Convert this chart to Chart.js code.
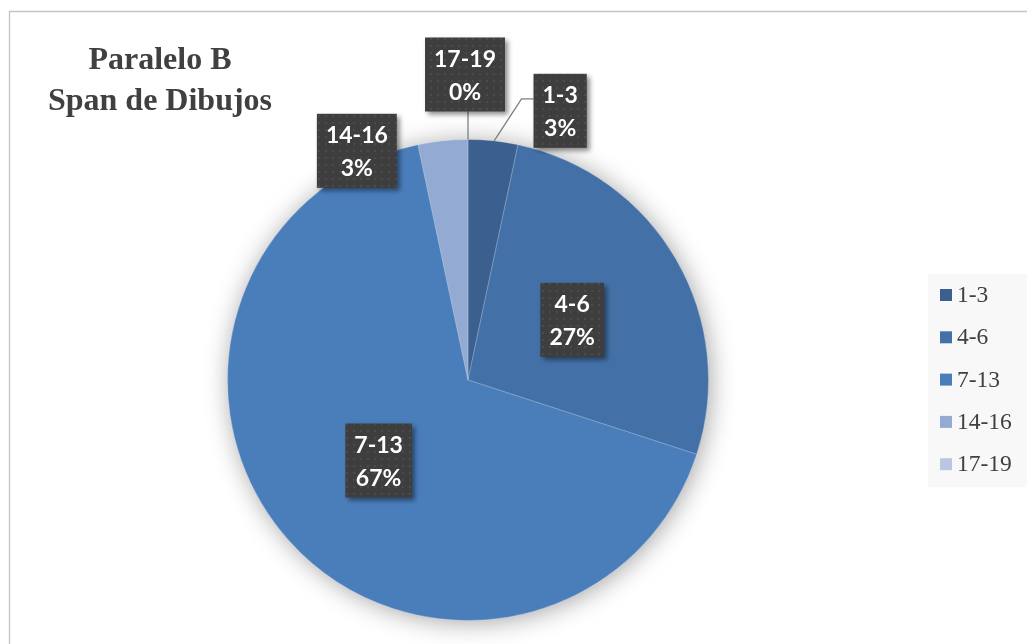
<!DOCTYPE html>
<html>
<head>
<meta charset="utf-8">
<script src="https://cdn.jsdelivr.net/npm/chart.js@4/dist/chart.umd.min.js"></script>
<style>
  html, body { margin: 0; padding: 0; background: #ffffff; }
  #wrap { position: relative; width: 1027px; height: 644px; }
  canvas { display: block; }
</style>
</head>
<body>
<div id="wrap"><canvas id="pie" width="1027" height="644"></canvas></div>
<script>
// Span ranges and number of drawings in each range
const categories = ['1-3', '4-6', '7-13', '14-16', '17-19'];
const counts = [1, 8, 20, 1, 0];
const titleLines = ['Paralelo B', 'Span de Dibujos'];

const sliceColors = ['#3b5f8e', '#4371a7', '#4a7ebb', '#93aad2', '#b9c7e3'];

// How each data label sits: inside the slice, or pushed outside from its rim
const labelPlacement = [
  { mode: 'outside', dx: 67, dy: -30, leader: 'elbow' },
  { mode: 'inside' },
  { mode: 'inside' },
  { mode: 'outside', dx: -86, dy: 10, leader: 'none' },
  { mode: 'outside', dx: -3, dy: -65, leader: 'vertical' }
];

const total = counts.reduce((a, b) => a + b, 0);

function makePattern(ctx) {
  const tile = document.createElement('canvas');
  tile.width = 7; tile.height = 7;
  const t = tile.getContext('2d');
  t.fillStyle = '#3e3e3e';
  t.fillRect(0, 0, 7, 7);
  t.fillStyle = '#4b4b4b';
  t.fillRect(3, 3, 2, 2);
  return ctx.createPattern(tile, 'repeat');
}

const framePlugin = {
  id: 'frame',
  beforeDraw(chart) {
    const ctx = chart.ctx;
    ctx.save();
    ctx.fillStyle = '#ffffff';
    ctx.fillRect(0, 0, chart.width, chart.height);
    ctx.strokeStyle = '#c4c4c4';
    ctx.lineWidth = 1.3;
    ctx.beginPath();
    ctx.moveTo(9.5, chart.height);
    ctx.lineTo(9.5, 11.5);
    ctx.lineTo(chart.width, 11.5);
    ctx.stroke();

    // title
    ctx.fillStyle = '#404040';
    ctx.font = 'bold 32px "Liberation Serif", "Times New Roman", serif';
    ctx.textAlign = 'center';
    ctx.textBaseline = 'alphabetic';
    ctx.fillText(titleLines[0], 160, 69);
    ctx.fillText(titleLines[1], 160, 110);

    // legend
    ctx.fillStyle = '#f8f8f8';
    ctx.fillRect(928, 274, chart.width - 928, 213);
    ctx.font = '23.5px "Liberation Serif", "Times New Roman", serif';
    ctx.textAlign = 'left';
    ctx.textBaseline = 'middle';
    categories.forEach((c, i) => {
      const cy = 295 + i * 42.3;
      ctx.fillStyle = sliceColors[i];
      ctx.fillRect(940, cy - 6, 12, 12);
      ctx.fillStyle = '#404040';
      ctx.fillText(c, 957, cy + 1);
    });
    ctx.restore();
  },
  beforeDatasetsDraw(chart) {
    const arc = chart.getDatasetMeta(0).data[0];
    if (!arc) return;
    const ctx = chart.ctx;
    ctx.save();
    ctx.shadowColor = 'rgba(0,0,0,0.38)';
    ctx.shadowBlur = 26;
    ctx.shadowOffsetX = 2;
    ctx.shadowOffsetY = 2;
    ctx.fillStyle = '#4a7ebb';
    ctx.beginPath();
    ctx.arc(arc.x, arc.y, arc.outerRadius - 1, 0, Math.PI * 2);
    ctx.fill();
    ctx.restore();
  },
  afterDatasetsDraw(chart) {
    const ctx = chart.ctx;
    const pattern = makePattern(ctx);
    const arcs = chart.getDatasetMeta(0).data;
    ctx.save();
    ctx.font = 'bold 23px Lato, "Open Sans", sans-serif';
    arcs.forEach((a, i) => {
      const p = labelPlacement[i];
      const mid = (a.startAngle + a.endAngle) / 2;
      const R = a.outerRadius;
      let cx, cy, ex, ey;
      ex = a.x + Math.cos(mid) * R;
      ey = a.y + Math.sin(mid) * R;
      if (p.mode === 'inside') {
        cx = a.x + Math.cos(mid) * R * 0.5;
        cy = a.y + Math.sin(mid) * R * 0.5;
      } else {
        cx = ex + p.dx;
        cy = ey + p.dy;
      }
      const l1 = categories[i];
      const l2 = Math.round(counts[i] / total * 100) + '%';
      const w = Math.max(ctx.measureText(l1).width, ctx.measureText(l2).width) + 18;
      const h = 74;
      const bx = cx - w / 2, by = cy - h / 2;

      // leader lines
      ctx.strokeStyle = '#7f7f7f';
      ctx.lineWidth = 1.3;
      if (p.leader === 'vertical') {
        ctx.beginPath();
        ctx.moveTo(ex, ey);
        ctx.lineTo(ex, by + h);
        ctx.stroke();
      } else if (p.leader === 'elbow') {
        const yy = cy - 12;
        ctx.beginPath();
        ctx.moveTo(ex + 1, ey);
        ctx.lineTo(bx - 12, yy);
        ctx.lineTo(bx, yy);
        ctx.stroke();
      }

      ctx.save();
      ctx.shadowColor = 'rgba(0,0,0,0.45)';
      ctx.shadowBlur = 5;
      ctx.shadowOffsetX = 3;
      ctx.shadowOffsetY = 3;
      ctx.fillStyle = pattern;
      ctx.fillRect(bx, by, w, h);
      ctx.restore();

      ctx.fillStyle = '#ffffff';
      ctx.textAlign = 'center';
      ctx.textBaseline = 'middle';
      ctx.fillText(l1, cx, cy - 15);
      ctx.fillText(l2, cx, cy + 18);
    });
    ctx.restore();
  }
};

new Chart(document.getElementById('pie'), {
  type: 'pie',
  data: {
    labels: categories,
    datasets: [{
      data: counts,
      backgroundColor: sliceColors,
      borderColor: 'rgba(255,255,255,0.22)',
      borderWidth: 1
    }]
  },
  options: {
    responsive: false,
    devicePixelRatio: 1,
    animation: false,
    layout: { padding: { top: 139, bottom: 23, left: 227, right: 318 } },
    plugins: {
      legend: { display: false },
      tooltip: { enabled: false },
      title: { display: false }
    }
  },
  plugins: [framePlugin]
});
</script>
</body>
</html>
